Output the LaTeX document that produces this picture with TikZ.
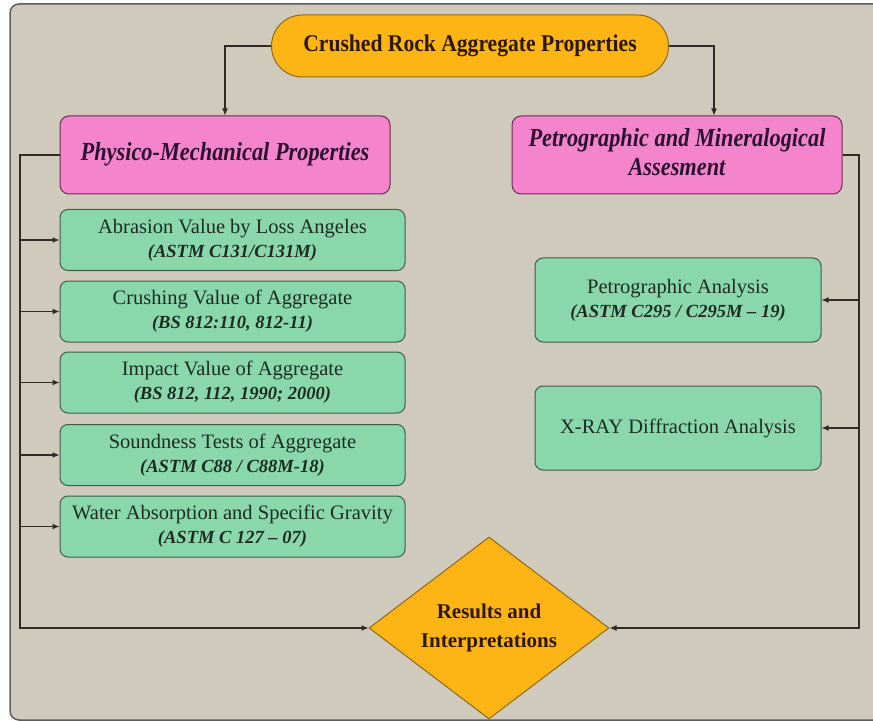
\documentclass[tikz,border=0pt]{standalone}
\usepackage{fontspec}
\setmainfont{Liberation Serif}
\usepackage{graphicx}
\usetikzlibrary{arrows.meta,shapes.geometric,calc}
\definecolor{bgc}{HTML}{D0CABC}
\definecolor{bordc}{HTML}{5E5E5E}
\definecolor{orng}{HTML}{FDB515}
\definecolor{orngd}{HTML}{8C6A1A}
\definecolor{pnk}{HTML}{F484CB}
\definecolor{pnkd}{HTML}{6A2C55}
\definecolor{grn}{HTML}{8AD7AB}
\definecolor{grnd}{HTML}{3C5E46}
\definecolor{linec}{HTML}{2E2A26}
\definecolor{gtext}{HTML}{1C2C22}
\definecolor{ptext}{HTML}{2B1230}
\definecolor{otext}{HTML}{2E1800}
\newcommand{\condtxt}[2]{\scalebox{#1}[1]{\begin{tabular}{@{}c@{}}#2\end{tabular}}}
\newcommand{\subt}[1]{{\fontsize{18.5}{24}\selectfont\bfseries\itshape #1}}
\tikzset{
  pillbox/.style={draw=orngd, fill=orng, line width=1pt, rounded corners=31pt,
    minimum width=397pt, minimum height=62pt, inner sep=0pt, text=otext},
  pinkbox/.style={draw=pnkd, fill=pnk, line width=1pt, rounded corners=9pt,
    minimum width=330pt, minimum height=78pt, inner sep=0pt, text=ptext},
  greenbox/.style={draw=grnd, fill=grn, line width=1pt, rounded corners=8pt,
    minimum width=345pt, minimum height=61pt, inner sep=0pt, text=gtext,
    align=center, font=\fontsize{20.5}{24}\selectfont},
  greenboxr/.style={greenbox, minimum width=286pt, minimum height=84pt},
  decision/.style={diamond, aspect=1.32, draw=orngd, fill=orng, line width=1pt,
    minimum width=240pt, minimum height=182pt, inner sep=0pt, text=otext,
    align=center, font=\fontsize{21}{29}\selectfont\bfseries},
  arr/.style={draw=linec, line width=1.1pt, -{Latex[length=7pt,width=6pt]}},
  conn/.style={draw=linec, line width=1.1pt}
}
\begin{document}
\begin{tikzpicture}[x=1pt,y=-1pt]
\useasboundingbox (0,0) rectangle (873,722);
\fill[white] (0,0) rectangle (873,722);
\begin{scope}
\clip (0,0) rectangle (873,722);
\draw[fill=bgc, draw=bordc, line width=1.5pt, rounded corners=9pt] (10,4) rectangle (895,720);
\end{scope}

\node[pillbox] (top) at (470,46) {\fontsize{24}{26}\selectfont\bfseries\condtxt{0.9}{Crushed Rock Aggregate Properties}};
\node[pinkbox] (phys) at (225,155) {\fontsize{26}{25}\selectfont\bfseries\itshape\condtxt{0.86}{Physico-Mechanical Properties}};
\node[pinkbox] (petro) at (677,155) {\fontsize{26}{29}\selectfont\bfseries\itshape\condtxt{0.86}{Petrographic and Mineralogical\\Assesment}};

\node[greenbox] (g1) at (232.5,240) {Abrasion Value by Loss Angeles\\\subt{(ASTM C131/C131M)}};
\node[greenbox] (g2) at (232.5,311.5) {Crushing Value of Aggregate\\\subt{(BS 812:110, 812-11)}};
\node[greenbox] (g3) at (232.5,382.5) {Impact Value of Aggregate\\\subt{(BS 812, 112, 1990; 2000)}};
\node[greenbox] (g4) at (232.5,455) {Soundness Tests of Aggregate\\\subt{(ASTM C88 / C88M-18)}};
\node[greenbox] (g5) at (232.5,526.5) {Water Absorption and Specific Gravity\\\subt{(ASTM C 127 – 07)}};

\node[greenboxr] (p1) at (678,300) {Petrographic Analysis\\\subt{(ASTM C295 / C295M – 19)}};
\node[greenboxr] (p2) at (678,428) {X-RAY Diffraction Analysis};

\node[decision] (res) at (489,628) {Results and\\Interpretations};

\coordinate (lx) at (20,0);
\coordinate (rx) at (859,0);
\coordinate (pin) at ($(petro.north)+(37,0)$);

\draw[arr] (top.west) -| (phys.north);
\draw[arr] (top.east) -| (pin);

\draw[arr] (phys.west) -- (lx |- phys.west) -- (lx |- res.west) -- (res.west);
\foreach \g in {g1,g2,g3,g4,g5}{
  \draw[arr] (lx |- \g.west) -- (\g.west);
}
\draw[arr] (petro.east) -- (rx |- petro.east) -- (rx |- res.east) -- (res.east);
\draw[arr] (rx |- p1.east) -- (p1.east);
\draw[arr] (rx |- p2.east) -- (p2.east);
\end{tikzpicture}
\end{document}
